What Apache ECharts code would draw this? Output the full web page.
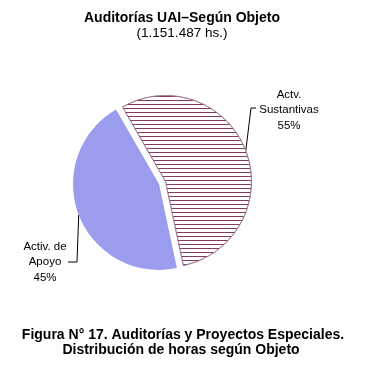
<!DOCTYPE html>
<html><head><meta charset="utf-8">
<script src="https://cdn.jsdelivr.net/npm/echarts@6/dist/echarts.min.js"></script>
<style>html,body{margin:0;padding:0;background:#fff}#c{width:367px;height:372px}</style>
</head><body><div id="c"></div>
<script>
const categories = ['Actv.\nSustantivas', 'Activ. de\nApoyo'];
const values = [55, 45];
const titleText = 'Auditorías UAI–Según Objeto';
const subtitleText = '(1.151.487 hs.)';
const captionLines = ['Figura N° 17. Auditorías y Proyectos Especiales.', 'Distribución de horas según Objeto'];

const FONT = '"Liberation Sans", Arial, sans-serif';
const chart = echarts.init(document.getElementById('c'), null, {renderer: 'canvas'});

const styles = [
  {color: '#ffffff', borderColor: '#9a7a8a', borderWidth: 0.8,
   decal: {symbol: 'rect', symbolSize: 1, color: '#843a63', dashArrayX: [1, 0], dashArrayY: [1, 3], rotation: 0}},
  {color: '#9c9cee', borderWidth: 0}
];
const centers = [[165.5, 181.5], [159, 184]];
const labelPos = [
  {x: 289, y: 110, pts: (a) => [a, [251, 108], [256, 108]]},
  {x: 45, y: 262, pts: (a) => [a, [77, 262], [68, 262]]}
];

function makeSeries(k) {
  return {
    type: 'pie',
    center: centers[k],
    radius: 86,
    startAngle: 120,
    clockwise: true,
    silent: true,
    avoidLabelOverlap: false,
    label: {
      show: true, position: 'outside', color: '#000', fontFamily: FONT, fontSize: 11.5, lineHeight: 15.5, align: 'center',
      formatter: (p) => p.name + '\n' + p.value + '%'
    },
    labelLine: {show: true, lineStyle: {color: '#000', width: 1}},
    labelLayout: (params) => {
      const lp = labelPos[params.dataIndex];
      const anchor = params.labelLinePoints ? params.labelLinePoints[0] : [0, 0];
      return {x: lp.x, y: lp.y, align: 'center', verticalAlign: 'middle', labelLinePoints: lp.pts(anchor)};
    },
    emphasis: {disabled: true},
    data: categories.map((name, i) => i === k
      ? {name, value: values[i], itemStyle: styles[i]}
      : {name, value: values[i], itemStyle: {color: 'rgba(0,0,0,0)', borderWidth: 0, decal: null},
         label: {show: false}, labelLine: {show: false}})
  };
}

chart.setOption({
  animation: false,
  aria: {enabled: false},
  graphic: [
    {type: 'text', style: {text: titleText, x: 182, y: 18, align: 'center', verticalAlign: 'middle', font: 'bold 14px ' + FONT, fill: '#000'}},
    {type: 'text', style: {text: subtitleText, x: 182, y: 33, align: 'center', verticalAlign: 'middle', font: '13.5px ' + FONT, fill: '#000'}},
    {type: 'text', style: {text: captionLines[0], x: 183, y: 335, align: 'center', verticalAlign: 'middle', font: 'bold 14px ' + FONT, fill: '#000'}},
    {type: 'text', style: {text: captionLines[1], x: 181, y: 350, align: 'center', verticalAlign: 'middle', font: 'bold 14px ' + FONT, fill: '#000'}}
  ],
  series: [makeSeries(0), makeSeries(1)]
});
</script></body></html>
